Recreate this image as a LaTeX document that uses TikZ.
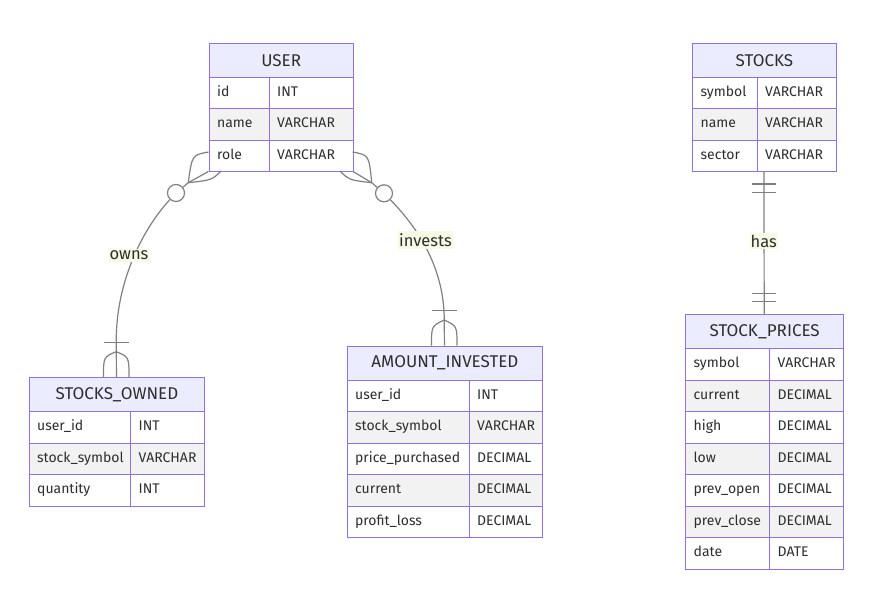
\documentclass[tikz,border=0pt]{standalone}
\usepackage{fontspec}
\setmainfont{Fira Sans}
\definecolor{bord}{HTML}{9370DB}
\definecolor{hdrfill}{HTML}{ECECFF}
\definecolor{rowgray}{HTML}{F2F2F2}
\definecolor{txt}{HTML}{2E2E2E}
\definecolor{edgec}{HTML}{808080}
\definecolor{lblbg}{HTML}{F6F9E4}
\tikzset{
  hdr/.style={draw=bord, line width=1.3pt, fill=hdrfill, minimum height=34pt, inner sep=0pt,
    text=txt, font=\fontsize{17}{19}\selectfont, anchor=north west},
  cell/.style={draw=bord, line width=1.3pt, minimum height=31.5pt, inner xsep=8pt, inner ysep=0pt,
    text=txt, font=\fontsize{14}{16}\selectfont, anchor=north west, align=left,
    text height=10pt, text depth=3pt},
  edgeline/.style={draw=edgec, line width=1.2pt},
  circ/.style={circle, draw=edgec, line width=1.2pt, fill=white, minimum size=17pt, inner sep=0pt},
  lbl/.style={fill=lblbg, text=txt, font=\fontsize{16.5}{18}\selectfont, inner xsep=1pt, inner ysep=2pt},
  tabbox/.style={inner sep=0pt, anchor=north west}
}
\newcommand\ertab[8]{%
  \pgfmathsetmacro\erkw{#5-16}%
  \pgfmathsetmacro\ertw{#4-#5-16}%
  \node[tabbox, minimum width=#4pt, minimum height={(34+31.5*#7)*1pt}] (#1) at (#2,#3) {};
  \node[hdr, minimum width=#4pt] (#1-h) at (#2,#3) {#6};
  \foreach \k/\t [count=\i] in {#8} {
    \pgfmathsetmacro\yy{#3+34+31.5*(\i-1)}
    \ifodd\i \def\rf{white}\else\def\rf{rowgray}\fi
    \node[cell, fill=\rf, text width=\erkw pt] (#1-k\i) at (#2,\yy) {\k};
    \node[cell, fill=\rf, text width=\ertw pt] (#1-t\i) at (#2+#5,\yy) {\t};
  }
}
\begin{document}
\begin{tikzpicture}[x=1pt, y=-1pt]
\useasboundingbox (0,0) rectangle (871,611);
\fill[white] (0,0) rectangle (871,611);

% tables
\ertab{user}{208.5}{42.5}{144}{60}{USER}{3}{id/INT, name/VARCHAR, role/VARCHAR}
\ertab{stocks}{692}{42.5}{143.5}{64.5}{STOCKS}{3}{symbol/VARCHAR, name/VARCHAR, sector/VARCHAR}
\ertab{owned}{28.5}{377}{175.5}{101.5}{STOCKS\_OWNED}{3}{user\_id/INT, stock\_symbol/VARCHAR, quantity/INT}
\ertab{inv}{346.5}{345.5}{195.5}{122}{AMOUNT\_INVESTED}{5}{user\_id/INT, stock\_symbol/VARCHAR, price\_purchased/DECIMAL, current/DECIMAL, profit\_loss/DECIMAL}
\ertab{prices}{685}{314}{158}{84}{STOCK\_PRICES}{7}{symbol/VARCHAR, current/DECIMAL, high/DECIMAL, low/DECIMAL, prev\_open/DECIMAL, prev\_close/DECIMAL, date/DATE}

% ---- owns: USER (zero or more) -> STOCKS_OWNED (one or more)
\coordinate (o1) at (188.3,182.7);
\node[circ] (c1) at (176,193) {};
\draw[edgeline] (user.south west) -- (o1) -- (c1);
\draw[edgeline] (o1) .. controls (192,155) .. (208.5,152);
\draw[edgeline] (o1) .. controls (212,180) .. (221,171);
\draw[edgeline] (c1) .. controls (140,232) and (116.25,285) .. (116.25,340) -- (owned.north);
\coordinate (f1) at (116.25,351.7);
\draw[edgeline] (103.5,342.7) -- (129,342.7);
\draw[edgeline] (f1) .. controls (103.5,357) .. (103.5,377);
\draw[edgeline] (f1) .. controls (129,357) .. (129,377);
\node[lbl] (l1) at (129,255.5) {owns};

% ---- invests: USER (zero or more) -> AMOUNT_INVESTED (one or more)
\coordinate (o2) at (371.7,182.7);
\node[circ] (c2) at (384,193.3) {};
\draw[edgeline] (user.south east) -- (o2) -- (c2);
\draw[edgeline] (o2) .. controls (369,155) .. (352.5,152);
\draw[edgeline] (o2) .. controls (349,180) .. (340,171);
\draw[edgeline] (c2) .. controls (420,230) and (444.25,270) .. (444.25,320) -- (inv.north);
\coordinate (f2) at (444.25,320);
\draw[edgeline] (431.5,310.7) -- (457,310.7);
\draw[edgeline] (f2) .. controls (431.5,326) .. (431.5,345.5);
\draw[edgeline] (f2) .. controls (457,326) .. (457,345.5);
\node[lbl] (l2) at (425.5,240) {invests};

% ---- has: STOCKS (exactly one) -> STOCK_PRICES (exactly one)
\draw[edgeline] (stocks.south) -- (prices.north);
\draw[edgeline] (751.5,184) -- (776,184);
\draw[edgeline] (751.5,192.7) -- (776,192.7);
\draw[edgeline] (751.5,293.3) -- (776,293.3);
\draw[edgeline] (751.5,301.7) -- (776,301.7);
\node[lbl] (l3) at (763.75,241) {has};
\end{tikzpicture}
\end{document}
